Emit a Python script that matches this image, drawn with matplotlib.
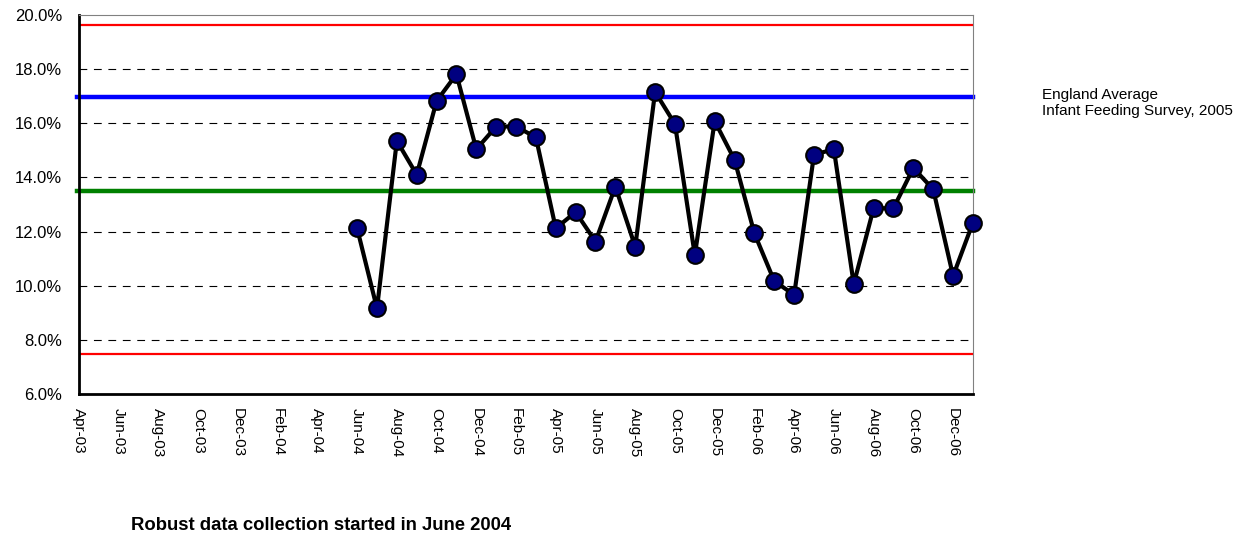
import matplotlib

matplotlib.use("Agg")
import matplotlib.pyplot as plt
from matplotlib.ticker import FuncFormatter

plt.rcParams["font.family"] = ["Liberation Sans", "DejaVu Sans"]

# monthly categories Apr-03 .. Jan-07
months = ["Apr", "May", "Jun", "Jul", "Aug", "Sep", "Oct", "Nov", "Dec", "Jan", "Feb", "Mar"]
categories = []
for i in range(46):
    m = months[i % 12]
    yr = 3 + (i + 3) // 12
    categories.append(f"{m}-{yr:02d}")

# rate (%) from Jun-04 onwards
start_idx = categories.index("Jun-04")
rate = [12.12, 9.16, 15.35, 14.10, 16.82, 17.81, 15.04, 15.88, 15.88, 15.48,
        12.12, 12.72, 11.63, 13.66, 11.44, 17.16, 15.97, 11.13, 16.08, 14.65,
        11.93, 10.17, 9.66, 14.84, 15.04, 10.06, 12.86, 12.86, 14.35, 13.56,
        10.36, 12.33]

upper_limit = 19.63
lower_limit = 7.48
england_avg = 16.97
centre_line = 13.5

fig = plt.figure(figsize=(12.58, 5.35), dpi=100)
ax = fig.add_axes([0.0628, 0.2636, 0.7106, 0.7084])

x_all = list(range(len(categories)))
ax.plot([x_all[0], x_all[-1]], [upper_limit] * 2, color="#ff0000", lw=1.6, zorder=2)
ax.plot([x_all[0], x_all[-1]], [lower_limit] * 2, color="#ff0000", lw=1.6, zorder=2)
ax.plot([x_all[0] - 0.1, x_all[-1]], [england_avg] * 2, color="#0000ff", lw=3.2,
        zorder=2, clip_on=False)
ax.plot([x_all[0] - 0.1, x_all[-1]], [centre_line] * 2, color="#008000", lw=3.2,
        zorder=2, clip_on=False)

xs = list(range(start_idx, start_idx + len(rate)))
ax.plot(xs, rate, color="black", lw=3, marker="o", ms=12, mfc="#000080",
        mec="black", mew=1.5, zorder=4, clip_on=False)

ax.set_xlim(0, len(categories) - 1)
ax.set_ylim(6, 20)
ax.set_yticks(range(6, 21, 2))
ax.yaxis.set_major_formatter(FuncFormatter(lambda v, _: f"{v:.1f}%"))
ax.set_xticks(x_all[::2])
ax.set_xticklabels(categories[::2], rotation=-90, va="top", ha="center")
ax.tick_params(axis="both", length=0, colors="black")
ax.tick_params(axis="x", pad=10, labelsize=11)
ax.tick_params(axis="y", pad=12, labelsize=12)

for v in range(8, 20, 2):
    ax.axhline(v, color="black", lw=0.8, ls=(0, (7, 6)), zorder=1)

ax.spines["left"].set_linewidth(2)
ax.spines["bottom"].set_linewidth(2)
ax.spines["top"].set_color("#808080")
ax.spines["right"].set_color("#808080")

fig.text(1042 / 1258, 1 - 99 / 535, "England Average",
         fontsize=11, va="baseline", ha="left")
fig.text(1042 / 1258, 1 - 115 / 535, "Infant Feeding Survey, 2005",
         fontsize=11, va="baseline", ha="left")
fig.text(131 / 1258, 1 - 530 / 535, "Robust data collection started in June 2004",
         fontsize=13.3, fontweight="bold", va="baseline", ha="left")

fig.savefig("out.png", dpi=100)
